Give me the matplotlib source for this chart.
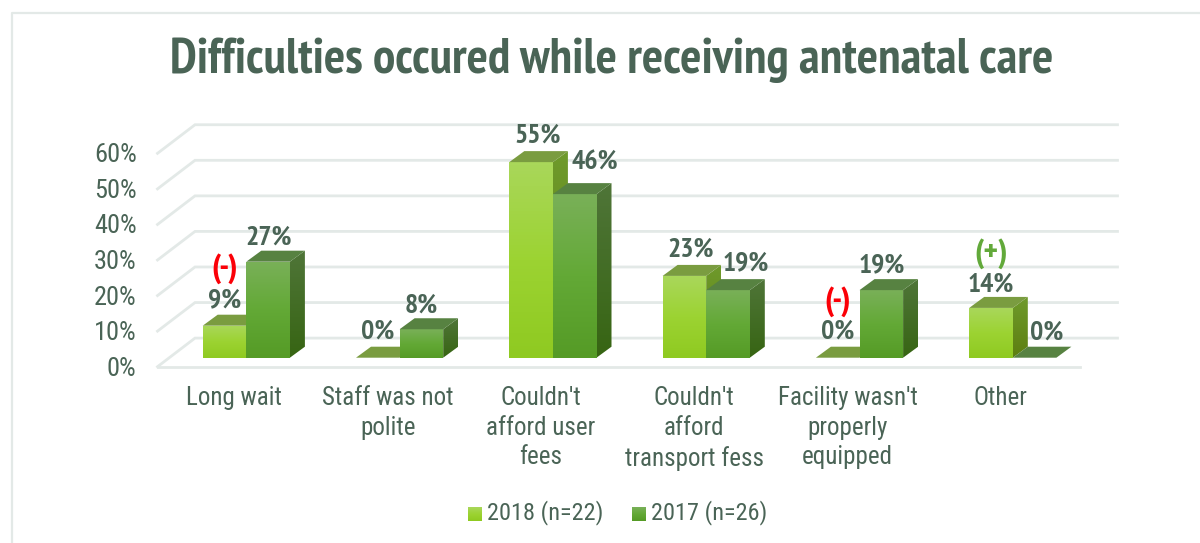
import numpy as np
import matplotlib
matplotlib.use("Agg")
import matplotlib.pyplot as plt
from matplotlib.patches import Polygon
from matplotlib.colors import LinearSegmentedColormap

categories = ["Long wait", "Staff was not\npolite", "Couldn't\nafford user\nfees",
              "Couldn't\nafford\ntransport fess", "Facility wasn't\nproperly\nequipped", "Other"]
vals_2018 = [9, 0, 55, 23, 0, 14]
vals_2017 = [27, 8, 46, 19, 19, 0]
y_ticks = [0, 10, 20, 30, 40, 50, 60]
legend_labels = ["2018 (n=22)", "2017 (n=26)"]

TXT = "#4a6456"
GRID = "#e3e9e7"
W, H = 1200, 543

# chart scale: px per % and px per category
Y0, PX_PCT = 357.7, 3.556
X0, PX_CAT = 202.7, 153.3
BAR = 43.6 / PX_CAT
DX, DY = 15 / PX_CAT, 11 / PX_PCT
FLOOR_GAP = 9 / PX_PCT   # front grid edge sits below the bar base

# hand placed label nudges in px (x, up), the original moved some of them
NUDGE_18 = [(0, 25), (0, 26), (7, 27), (6, 26), (0, 26), (0, 23)]
NUDGE_17 = [(0, 24), (0, 24), (20, 32), (18, 27), (0, 25), (12, 25)]

BOLD = ["PT Sans Narrow", "Liberation Sans", "DejaVu Sans"]
plt.rcParams["font.family"] = ["Roboto Condensed", "Liberation Sans", "DejaVu Sans"]

fig = plt.figure(figsize=(12, 5.43), dpi=100)

# pixel layer for frame and text that has no data scale
bg = fig.add_axes([0, 0, 1, 1])
bg.set_xlim(0, W)
bg.set_ylim(H, 0)
bg.axis("off")
bg.plot([11.5, 11.5, 1200], [543, 13, 13], color=GRID, lw=1.6)
bg.text(612, 73, "Difficulties occured while receiving antenatal care", ha="center", va="baseline",
        fontsize=36, fontweight="bold", color=TXT, family=BOLD)

# data layer: x = category index, y = percent
ax = fig.add_axes([0, 0, 1, 1])
ax.patch.set_alpha(0)
ax.set_xlim(-X0 / PX_CAT, (W - X0) / PX_CAT)
ax.set_ylim(-(H - Y0) / PX_PCT, Y0 / PX_PCT)
ax.axis("off")

# 3d walls: x range of front and back edge of grid
gl, gr = (157.5 - X0) / PX_CAT, (1080 - X0) / PX_CAT
gdx, gdy = 37.5 / PX_CAT, 28.6 / PX_PCT
for t in y_ticks:
    y = t - FLOOR_GAP
    ax.plot([gl, gl + gdx, gr + gdx], [y, y + gdy, y + gdy], color=GRID, lw=2, zorder=1, solid_joinstyle="miter")
    ax.text(gl - 21 / PX_CAT, y - 2 / PX_PCT, f"{t}%", ha="right", va="center", fontsize=19, color=TXT)
ax.plot([gl, gr], [-FLOOR_GAP, -FLOOR_GAP], color=GRID, lw=2, zorder=1)


def grad(*cols):
    return LinearSegmentedColormap.from_list("g", cols)


def face(pts, cmap, zorder):
    # gradient filled polygon, clipped with imshow
    pts = np.array(pts)
    poly = Polygon(pts, closed=True, transform=ax.transData, fc="none", ec="none")
    ax.add_patch(poly)
    im = ax.imshow(np.linspace(0, 1, 64).reshape(-1, 1), cmap=cmap, aspect="auto", zorder=zorder,
                   extent=[pts[:, 0].min(), pts[:, 0].max(), pts[:, 1].min(), pts[:, 1].max()], origin="upper")
    im.set_clip_path(poly)


FRONT_18 = ("#a9d75a", "#9cd332", "#8fca21")
FRONT_17 = ("#79b058", "#63a936", "#559b26")


def bar3d(x, v, front, side, top, z):
    w = BAR
    if v > 0:
        face([(x, 0), (x + w, 0), (x + w, v), (x, v)], grad(*front), z + 0.2)
        face([(x + w, 0), (x + w + DX, DY), (x + w + DX, v + DY), (x + w, v)], grad(*side), z + 0.1)
    ax.add_patch(Polygon([(x, v), (x + w, v), (x + w + DX, v + DY), (x + DX, v + DY)], closed=True,
                         fc=top, ec="none", zorder=z + 0.3))


for i in range(len(categories)):
    bar3d(i, vals_2018[i], FRONT_18, ("#6f9a2c", "#5c7f10"), "#7a9c40", 3)
    bar3d(i + BAR, vals_2017[i], FRONT_17, ("#4f7538", "#376513"), "#578241", 4)

LAB = dict(ha="center", va="center", fontsize=20, fontweight="bold", color=TXT, zorder=6, family=BOLD)
for i in range(len(categories)):
    n18, n17 = NUDGE_18[i], NUDGE_17[i]
    ax.text(i + BAR * 0.5 + n18[0] / PX_CAT, vals_2018[i] + n18[1] / PX_PCT, f"{vals_2018[i]}%", **LAB)
    ax.text(i + BAR * 1.5 + n17[0] / PX_CAT, vals_2017[i] + n17[1] / PX_PCT, f"{vals_2017[i]}%", **LAB)

MARK = dict(ha="center", va="center", fontsize=24, fontweight="bold", family=BOLD)
ax.text(0 + BAR * 0.5, 9 + 57 / PX_PCT, "(-)", color="#fb0007", **MARK)
ax.text(4 + BAR * 0.5, 0 + 56 / PX_PCT, "(-)", color="#fb0007", **MARK)
ax.text(5 + BAR * 0.5, 14 + 54 / PX_PCT, "(+)", color="#62a93a", **MARK)

for i, c in enumerate(categories):
    ax.text(i + BAR * 0.75 - 1 / PX_CAT, -(386 - Y0) / PX_PCT, c, ha="center", va="top", fontsize=18, color=TXT,
            linespacing=1.3)

# legend
for sx, lab, c in zip([468, 632], legend_labels, [FRONT_18, FRONT_17]):
    bg.imshow(np.linspace(0, 1, 32).reshape(-1, 1), cmap=grad(*c), aspect="auto", extent=[sx, sx + 14, 521, 507], zorder=3)
    bg.text(sx + 19, 513, lab, ha="left", va="center", fontsize=17.5, color=TXT)
bg.set_xlim(0, W)
bg.set_ylim(H, 0)
ax.set_xlim(-X0 / PX_CAT, (W - X0) / PX_CAT)
ax.set_ylim(-(H - Y0) / PX_PCT, Y0 / PX_PCT)

fig.savefig("out.png", dpi=100)
